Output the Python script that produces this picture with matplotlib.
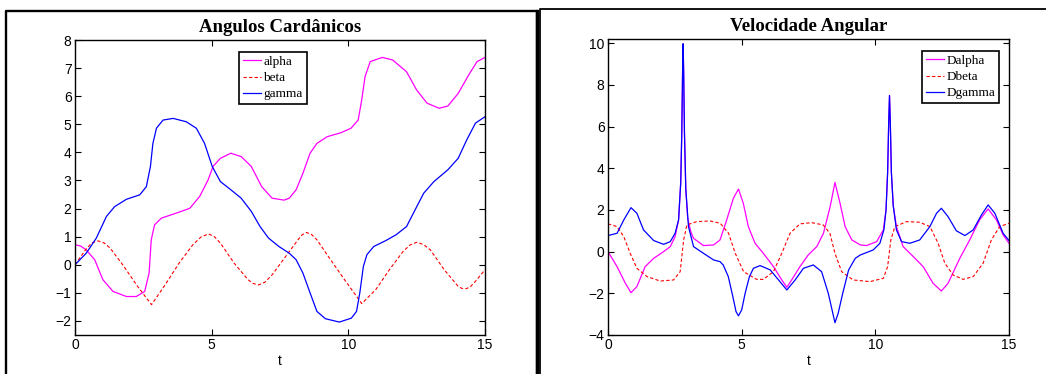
import matplotlib
matplotlib.use("Agg")
import matplotlib.pyplot as plt
from matplotlib.lines import Line2D

# ---------------- data: left panel (Angulos Cardanicos) ----------------
alpha_t = [0, 0.2, 0.41, 0.72, 1.02, 1.39, 1.88, 2.24, 2.55, 2.71, 2.79, 2.91, 3.16, 3.71, 4.2,
           4.56, 4.87, 5.05, 5.32, 5.7, 6.08, 6.45, 6.83, 7.21, 7.65, 7.84, 8.09, 8.34, 8.6, 8.85,
           9.23, 9.73, 10.1, 10.36, 10.49, 10.61, 10.8, 11.24, 11.62, 12.13, 12.5, 12.88, 13.32, 13.64,
           14.02, 14.4, 14.71, 15]
alpha = [0.71, 0.67, 0.53, 0.18, -0.53, -0.95, -1.13, -1.13, -0.95, -0.3, 0.89, 1.42, 1.66, 1.84, 2.01,
         2.43, 3.02, 3.5, 3.79, 3.97, 3.85, 3.5, 2.78, 2.37, 2.3, 2.37, 2.67, 3.26, 3.97, 4.32,
         4.56, 4.7, 4.86, 5.15, 5.87, 6.69, 7.23, 7.38, 7.29, 6.87, 6.22, 5.75, 5.57, 5.65,
         6.1, 6.75, 7.23, 7.38]

beta_t = [0, 0.4, 0.62, 0.84, 1.06, 1.29, 1.79, 2.29, 2.8, 3.3, 3.81, 4.31, 4.6, 4.88, 5.1,
          5.32, 5.82, 6.33, 6.5, 6.71, 6.95, 7.21, 7.71, 8.16, 8.3, 8.47, 8.65, 8.85, 9.35, 9.86,
          10.49, 11.0, 11.5, 12.0, 12.25, 12.5, 12.75, 13.0, 13.51, 14.02, 14.15, 14.3, 14.45, 14.65, 15]
beta = [0, 0.55, 0.78, 0.85, 0.78, 0.59, -0.06, -0.77, -1.42, -0.71, 0.06, 0.71, 0.98, 1.1, 1.0,
        0.77, 0.06, -0.53, -0.66, -0.72, -0.62, -0.36, 0.3, 0.89, 1.06, 1.15, 1.08, 0.89, 0.18, -0.53,
        -1.38, -0.89, -0.18, 0.47, 0.7, 0.8, 0.72, 0.53, -0.18, -0.77, -0.84, -0.85, -0.8, -0.59, -0.18]

gamma_t = [0, 0.41, 0.78, 1.15, 1.45, 1.88, 2.37, 2.61, 2.76, 2.85, 2.98, 3.22, 3.59, 4.07, 4.44,
           4.74, 5.02, 5.32, 5.7, 6.08, 6.45, 6.77, 7.08, 7.46, 7.84, 8.09, 8.34, 8.6, 8.85, 9.16,
           9.67, 10.11, 10.3, 10.42, 10.55, 10.68, 10.93, 11.37, 11.75, 12.13, 12.44, 12.76, 13.13,
           13.64, 14.02, 14.33, 14.65, 15]
gamma = [0, 0.41, 0.95, 1.72, 2.07, 2.33, 2.49, 2.78, 3.5, 4.32, 4.86, 5.15, 5.21, 5.09, 4.86,
         4.32, 3.5, 2.96, 2.67, 2.37, 1.9, 1.36, 0.95, 0.65, 0.41, 0.18, -0.3, -1.0, -1.66, -1.92,
         -2.04, -1.9, -1.66, -1.0, -0.06, 0.36, 0.65, 0.86, 1.07, 1.36, 1.95, 2.55, 2.96,
         3.38, 3.79, 4.44, 5.04, 5.27]

# ---------------- data: right panel (Velocidade Angular) ----------------
dalpha_t = [0, 0.34, 0.65, 0.86, 1.08, 1.39, 1.71, 2.08, 2.33, 2.51, 2.64, 2.72, 2.76, 2.79, 2.81,
            2.83, 2.86, 2.91, 2.98, 3.1, 3.2, 3.57, 3.95, 4.19, 4.44, 4.69, 4.88, 5.06, 5.25, 5.5,
            5.81, 6.19, 6.5, 6.69, 6.87, 7.18, 7.49, 7.81, 8.06, 8.31, 8.49, 8.68, 8.87, 9.12,
            9.44, 9.67, 10.05, 10.3, 10.4, 10.46, 10.5, 10.53, 10.56, 10.6, 10.67, 10.79, 11.04,
            11.42, 11.79, 12.16, 12.47, 12.72, 13.16, 13.53, 13.9, 14.22, 14.53, 14.78, 15]
dalpha = [0, -0.72, -1.52, -1.97, -1.68, -0.72, -0.32, 0, 0.24, 0.72, 1.52, 3.3, 5.7, 8.6, 9.97,
          8.6, 5.7, 3.0, 1.6, 0.95, 0.64, 0.29, 0.32, 0.56, 1.52, 2.56, 3.0, 2.32, 1.2, 0.4,
          -0.08, -0.72, -1.36, -1.71, -1.36, -0.72, -0.16, 0.24, 0.88, 2.16, 3.32, 2.32, 1.2, 0.56,
          0.32, 0.29, 0.48, 1.04, 2.0, 3.8, 6.2, 7.49, 6.2, 3.8, 2.2, 1.2, 0.24,
          -0.24, -0.72, -1.52, -1.89, -1.52, -0.32, 0.56, 1.52, 2.05, 1.52, 0.8, 0.4]

dbeta_t = [0, 0.34, 0.59, 0.83, 1.08, 1.46, 1.95, 2.45, 2.7, 2.83, 2.95, 3.32, 3.82, 4.2, 4.51,
           4.76, 5.07, 5.56, 5.81, 6.19, 6.5, 6.81, 7.18, 7.62, 8.05, 8.3, 8.49, 8.74, 9.17, 9.8,
           10.3, 10.46, 10.58, 10.73, 11.17, 11.66, 12.04, 12.35, 12.6, 12.91, 13.28, 13.66, 14.03,
           14.34, 14.65, 15]
dbeta = [1.33, 1.2, 0.72, -0.08, -0.8, -1.2, -1.41, -1.36, -0.96, 0.56, 1.28, 1.44, 1.47, 1.36, 0.88,
         -0.08, -0.96, -1.33, -1.33, -0.96, -0.08, 0.88, 1.33, 1.39, 1.28, 0.88, -0.08, -0.96, -1.36, -1.44,
         -1.28, -0.72, 0.56, 1.2, 1.44, 1.41, 1.2, 0.4, -0.56, -1.12, -1.33, -1.2, -0.56,
         0.56, 1.2, 1.36]

dgamma_t = [0, 0.34, 0.59, 0.86, 1.08, 1.33, 1.71, 2.08, 2.33, 2.51, 2.64, 2.72, 2.76, 2.79, 2.81,
            2.83, 2.86, 2.91, 3.01, 3.2, 3.57, 3.95, 4.19, 4.31, 4.5, 4.67, 4.79, 4.88, 5.0, 5.13,
            5.29, 5.44, 5.69, 6.07, 6.38, 6.69, 7.0, 7.31, 7.68, 7.99, 8.24, 8.41, 8.49, 8.61,
            8.78, 9.0, 9.25, 9.44, 9.92, 10.17, 10.32, 10.4, 10.46, 10.5, 10.53, 10.56, 10.6,
            10.67, 10.79, 10.98, 11.29, 11.66, 12.04, 12.29, 12.47, 12.72, 13.03, 13.35, 13.66,
            13.97, 14.22, 14.47, 14.78, 15]
dgamma = [0.77, 0.88, 1.52, 2.11, 1.84, 1.04, 0.53, 0.35, 0.48, 0.88, 1.52, 3.3, 5.7, 8.6, 9.97,
          8.6, 5.7, 3.0, 1.2, 0.24, -0.08, -0.4, -0.48, -0.64, -1.2, -2.16, -2.88, -3.08, -2.8, -2.0,
          -1.2, -0.8, -0.67, -0.88, -1.36, -1.84, -1.36, -0.8, -0.64, -0.96, -2.0, -2.96, -3.41, -2.96,
          -2.0, -0.88, -0.32, -0.16, 0.08, 0.4, 1.04, 2.0, 3.8, 6.2, 7.49, 6.2, 3.8,
          2.2, 1.04, 0.48, 0.4, 0.56, 1.2, 1.84, 2.08, 1.68, 1.0, 0.77, 1.04,
          1.76, 2.24, 1.84, 0.88, 0.53]

left_title = "Angulos Cardânicos"
right_title = "Velocidade Angular"
left_labels = ["alpha", "beta", "gamma"]
right_labels = ["Dalpha", "Dbeta", "Dgamma"]
xticks = [0, 5, 10, 15]
left_yticks = list(range(-2, 9))
right_yticks = list(range(-4, 11, 2))

# ---------------- figure ----------------
W, H = 1046, 374
fig = plt.figure(figsize=(W / 100, H / 100), dpi=100)
fig.patch.set_facecolor("white")

def px_rect(x0, y0, x1, y1):
    return [x0 / W, 1 - y1 / H, (x1 - x0) / W, (y1 - y0) / H]

SANS = ["Liberation Sans", "DejaVu Sans"]
SERIF = ["Liberation Serif", "DejaVu Serif"]

def style_axes(ax, yticks, ylim, title):
    ax.set_xlim(0, 15)
    ax.set_ylim(*ylim)
    ax.set_xticks(xticks)
    ax.set_yticks(yticks)
    ax.tick_params(direction="in", length=4, width=0.8, top=True, right=True,
                   labelsize=10, pad=2.5, colors="black")
    for lab in ax.get_xticklabels() + ax.get_yticklabels():
        lab.set_fontfamily(SANS)
    for s in ax.spines.values():
        s.set_linewidth(1.0)
        s.set_color("black")
    ax.set_xlabel("t", fontsize=10, family=SANS, labelpad=1)
    ax.set_title(title, fontsize=13.5, fontweight="bold", family=SERIF, pad=6)

def make_legend(ax, loc, anchor):
    leg = ax.legend(loc=loc, bbox_to_anchor=anchor, prop={"family": SERIF, "size": 9.5},
                    frameon=True, fancybox=False, framealpha=1, edgecolor="black",
                    borderpad=0.3, labelspacing=0.3, handlelength=1.35, handletextpad=0.2,
                    borderaxespad=0)
    leg.get_frame().set_linewidth(1.2)
    return leg

# left axes
ax1 = fig.add_axes(px_rect(75, 40, 485, 335))
ax1.plot(alpha_t, alpha, color=(1, 0, 1), lw=0.9, label=left_labels[0])
ax1.plot(beta_t, beta, color=(1, 0, 0), lw=0.8, ls=(0, (3, 2)), label=left_labels[1])
ax1.plot(gamma_t, gamma, color=(0, 0, 1), lw=0.9, label=left_labels[2])
style_axes(ax1, left_yticks, (-2.5, 8), left_title)
make_legend(ax1, "upper left", (0.40, 0.96))

# right axes
ax2 = fig.add_axes(px_rect(608, 39, 1009, 335))
ax2.plot(dalpha_t, dalpha, color=(1, 0, 1), lw=0.9, label=right_labels[0])
ax2.plot(dbeta_t, dbeta, color=(1, 0, 0), lw=0.8, ls=(0, (3, 2)), label=right_labels[1])
ax2.plot(dgamma_t, dgamma, color=(0, 0, 1), lw=0.9, label=right_labels[2])
style_axes(ax2, right_yticks, (-4, 10.2), right_title)
make_legend(ax2, "upper right", (0.975, 0.96))

# panel frames (in pixel coordinates)
def fline(xs, ys, lw):
    fig.add_artist(Line2D([x / W for x in xs], [1 - y / H for y in ys],
                          color="black", lw=lw, solid_capstyle="projecting",
                          transform=fig.transFigure))

fline([6, 6, 536.5, 536.5], [H + 5, 10.5, 10.5, H + 5], 1.7)
fline([536.5, 536.5], [10.5, H + 5], 2.4)
fline([540, 540, W + 5], [H + 5, 9.3, 9.3], 1.3)

fig.savefig("out.png", dpi=100)
